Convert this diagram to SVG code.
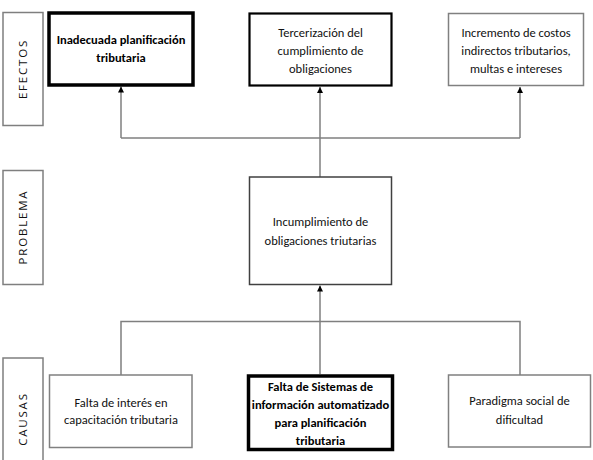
<svg xmlns="http://www.w3.org/2000/svg" width="593" height="460" viewBox="0 0 593 460">
<style>
.bg{fill:#ffffff}
.lbl{fill:#ffffff;stroke:#7f7f7f;stroke-width:1.5}
.box{fill:#ffffff;stroke:#808080;stroke-width:1.5}
.mid{fill:#ffffff;stroke:#404040;stroke-width:1.5}
.med{fill:#ffffff;stroke:#000000;stroke-width:2.2}
.bold{fill:#ffffff;stroke:#000000;stroke-width:3.5}
text{font-family:Carlito,Lato,"Liberation Sans",sans-serif;font-size:12.5px;fill:#111111;text-anchor:middle}
.b{font-weight:bold;fill:#000000}
.vt{font-family:"Open Sans","Liberation Sans",sans-serif;font-size:11.5px;letter-spacing:1.8px}
.cn{fill:none;stroke:#7f7f7f;stroke-width:1.5}
</style>
<defs>
<marker id="ah" viewBox="0 0 10 10" refX="10" refY="5" markerWidth="6" markerHeight="6" markerUnits="userSpaceOnUse" orient="auto">
<path d="M0,0 L10,5 L0,10 z" fill="#000000"/>
</marker>
</defs>
<rect class="bg" x="0" y="0" width="593" height="460"/>

<g id="label-efectos">
<rect class="lbl" x="3" y="12.5" width="40" height="113"/>
<text class="vt" transform="translate(27,69) rotate(-90)">EFECTOS</text>
</g>
<g id="label-problema">
<rect class="lbl" x="3" y="170.5" width="40" height="114"/>
<text class="vt" transform="translate(27,227) rotate(-90)">PROBLEMA</text>
</g>
<g id="label-causas">
<rect class="lbl" x="3" y="358" width="40" height="110"/>
<text class="vt" transform="translate(27,419) rotate(-90)">CAUSAS</text>
</g>

<g id="connectors">
<polyline class="cn" points="320,177 320,138"/>
<polyline class="cn" points="121,138 520,138"/>
<line class="cn" x1="121" y1="138" x2="121" y2="86.5" marker-end="url(#ah)"/>
<line class="cn" x1="320" y1="138" x2="320" y2="87" marker-end="url(#ah)"/>
<line class="cn" x1="520" y1="138" x2="520" y2="87" marker-end="url(#ah)"/>
<polyline class="cn" points="121,375 121,321.5 520,321.5 520,375"/>
<line class="cn" x1="320" y1="374" x2="320" y2="285.5" marker-end="url(#ah)"/>
</g>

<g id="efecto-1">
<rect class="bold" x="49" y="13" width="144" height="72"/>
<text class="b" x="121" y="44">Inadecuada planificación</text>
<text class="b" x="121" y="62">tributaria</text>
</g>
<g id="efecto-2">
<rect class="med" x="249.5" y="13.5" width="142" height="72"/>
<text x="320.5" y="37">Tercerización del</text>
<text x="320.5" y="55">cumplimiento de</text>
<text x="320.5" y="73">obligaciones</text>
</g>
<g id="efecto-3">
<rect class="box" x="448.5" y="13.5" width="135" height="72"/>
<text x="516" y="37">Incremento de costos</text>
<text x="516" y="55">indirectos tributarios,</text>
<text x="516" y="73">multas e intereses</text>
</g>

<g id="problema">
<rect class="mid" x="249.5" y="177" width="142" height="107.5"/>
<text x="320.5" y="226">Incumplimiento de</text>
<text x="320.5" y="245">obligaciones triutarias</text>
</g>

<g id="causa-1">
<rect class="box" x="49.5" y="375" width="142.5" height="72.5"/>
<text x="121" y="407">Falta de interés en</text>
<text x="121" y="424">capacitación tributaria</text>
</g>
<g id="causa-2">
<rect class="bold" x="248.5" y="376" width="144" height="73.5"/>
<text class="b" x="320.5" y="391">Falta de Sistemas de</text>
<text class="b" x="320.5" y="409">información automatizado</text>
<text class="b" x="320.5" y="427">para planificación</text>
<text class="b" x="320.5" y="445">tributaria</text>
</g>
<g id="causa-3">
<rect class="box" x="448.5" y="375" width="142" height="72"/>
<text x="519.5" y="405">Paradigma social de</text>
<text x="519.5" y="424">dificultad</text>
</g>
</svg>
